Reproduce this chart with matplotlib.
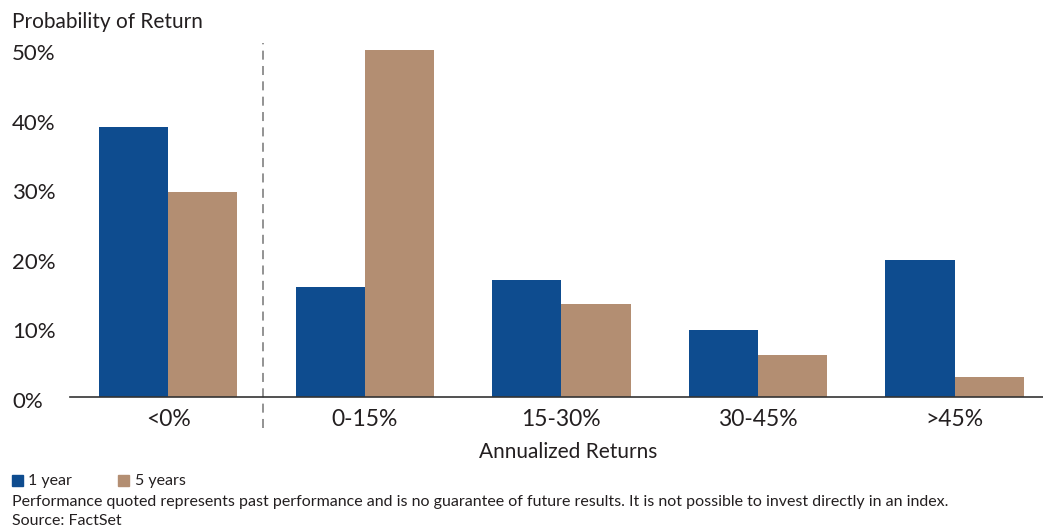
import matplotlib.pyplot as plt
import matplotlib.transforms as mtransforms
import numpy as np
from matplotlib.patches import Rectangle

plt.rcParams['font.family'] = ['Lato', 'DejaVu Sans']

categories = ["<0%", "0-15%", "15-30%", "30-45%", ">45%"]
one_year = [38.9, 15.9, 16.8, 9.7, 19.7]
five_years = [29.6, 50.0, 13.4, 6.1, 2.9]
ytick_vals = [0, 10, 20, 30, 40, 50]
ytick_labels = ["0%", "10%", "20%", "30%", "40%", "50%"]

blue = "#0e4c8f"
tan = "#b38e72"
txt = "#231f20"

fig = plt.figure(figsize=[10.43, 5.29], dpi=100)
ax = fig.add_axes([70/1043, 1-397/529, 1-70/1043, (397-50)/529])

x = np.arange(len(categories))
w = 0.352
ax.bar(x - w/2, one_year, width=w, color=blue, label="1 year")
ax.bar(x + w/2, five_years, width=w, color=tan, label="5 years")

ax.set_xlim(-0.5, 4.45)
ax.set_ylim(0, 50)
for s in ["top", "right", "left"]:
    ax.spines[s].set_visible(False)
ax.spines["bottom"].set_color("#333333")
ax.spines["bottom"].set_linewidth(1.2)

ax.set_yticks(ytick_vals)
ax.set_yticklabels(ytick_labels, fontsize=16, color=txt)
ax.tick_params(axis="y", length=0, pad=58/1.389)
shift = mtransforms.ScaledTranslation(0, -2.5/100, fig.dpi_scale_trans)
for lab in ax.get_yticklabels():
    lab.set_horizontalalignment("left")
    lab.set_transform(lab.get_transform() + shift)
ax.set_xticks(x)
ax.set_xticklabels(categories, fontsize=16.5, color=txt)
ax.tick_params(axis="x", length=0, pad=9)

fig.text(568/1043, 1-452/529, "Annualized Returns", fontsize=15, color=txt,
         ha="center", va="center")

# dashed separator between <0% and 0-15%
trans = ax.get_xaxis_transform()
ax.plot([0.48, 0.48], [-0.09, 1.02], transform=trans, clip_on=False,
        color="#8a8a8a", linewidth=1.3, dashes=(5, 3.5))

fig.text(12/1043, 1-22/529, "Probability of Return", fontsize=15, color=txt,
         va="center", ha="left")

# legend
fig.patches.append(Rectangle((12/1043, 1-486/529), 11/1043, 11/529,
                             transform=fig.transFigure, color=blue))
fig.text(28/1043, 1-481/529, "1 year", fontsize=11.5, color=txt, va="center")
fig.patches.append(Rectangle((118/1043, 1-486/529), 11/1043, 11/529,
                             transform=fig.transFigure, color=tan))
fig.text(135/1043, 1-481/529, "5 years", fontsize=11.5, color=txt, va="center")

fig.text(12/1043, 1-502/529, "Performance quoted represents past performance and is no guarantee of future results. It is not possible to invest directly in an index.",
         fontsize=11.5, color=txt, va="center")
fig.text(12/1043, 1-521/529, "Source: FactSet", fontsize=11.5, color=txt, va="center")

plt.savefig("out.png", dpi=100)
